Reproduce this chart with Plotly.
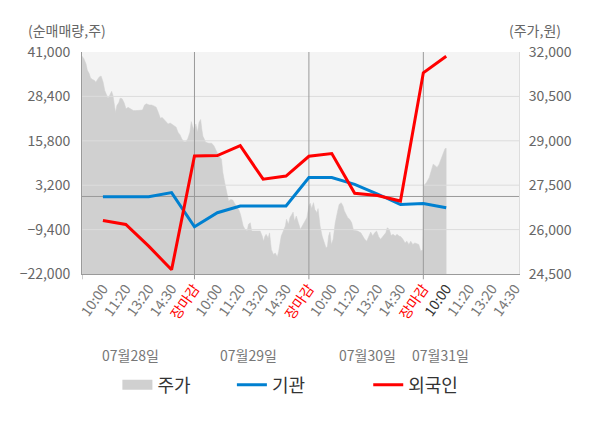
import plotly.graph_objects as go

# 시간축: 하루 5칸(10:00 ~ 장마감), 마지막 날은 4칸
slot_labels = ['10:00', '11:20', '13:20', '14:30', '장마감'] * 3 + ['10:00', '11:20', '13:20', '14:30']
day_labels = ['07월28일', '07월29일', '07월30일', '07월31일']
day_label_pos = [1.2, 6.37, 11.54, 14.77]
close_slots = [4, 9, 14]

# 순매매량 (주)
flow_slot = list(range(16))
inst = [-100, -100, -100, 1100, -8600, -4600, -2700, -2700, -2700, 5400, 5400, 3450, 700, -2300, -2000, -3200]
foreign = [-6800, -7950, -14100, -20800, 11500, 11600, 14400, 4900, 5800, 11400, 12200, 900, 300, -1300, 35100, 39800]

# 주가 (원), 분봉 근사
price_t = [
    -0.91, -0.83, -0.74, -0.68, -0.60, -0.54, -0.45, -0.37, -0.31, -0.25, -0.17, -0.08, 0.01, 0.08, 0.15,
    0.22, 0.29, 0.38, 0.44, 0.49, 0.55, 0.61, 0.70, 0.75, 0.84, 0.93, 1.01, 1.10, 1.18, 1.27, 1.33, 1.44,
    1.59, 1.73, 1.82, 1.90, 2.02, 2.13, 2.25, 2.33, 2.42, 2.51, 2.59, 2.68, 2.76, 2.85, 2.94, 3.02, 3.11,
    3.20, 3.28, 3.37, 3.45, 3.54, 3.63, 3.71, 3.80, 3.86,
    3.91, 3.99, 4.06, 4.13, 4.20, 4.27, 4.32, 4.37, 4.43, 4.49, 4.63, 4.75, 4.85, 4.92, 5.06, 5.18, 5.24,
    5.32, 5.38, 5.44, 5.49, 5.58, 5.67, 5.75, 5.84, 5.93, 6.01, 6.07, 6.13, 6.21, 6.30, 6.36, 6.44, 6.50,
    6.59, 6.73, 6.87, 6.96, 7.02, 7.07, 7.13, 7.22, 7.28, 7.36, 7.45, 7.53, 7.62, 7.68, 7.74, 7.79, 7.88,
    7.97, 8.02, 8.11, 8.17, 8.22, 8.31, 8.37, 8.45, 8.54, 8.63, 8.71, 8.80,
    8.91, 9.00, 9.06, 9.12, 9.20, 9.26, 9.35, 9.40, 9.49, 9.58, 9.66, 9.75, 9.81, 9.86, 9.92, 9.98, 10.06,
    10.15, 10.24, 10.32, 10.41, 10.49, 10.55, 10.64, 10.70, 10.78, 10.87, 10.95, 11.13, 11.27, 11.36,
    11.44, 11.53, 11.62, 11.70, 11.79, 11.87, 11.96, 12.05, 12.13, 12.22, 12.28, 12.36, 12.42, 12.51,
    12.59, 12.68, 12.77, 12.85, 12.94, 13.02, 13.11, 13.20, 13.28, 13.37, 13.45, 13.54, 13.63, 13.71,
    13.80, 13.89, 13.97, 14.02, 14.14, 14.26, 14.35, 14.43, 14.52, 14.60, 14.69, 14.78, 14.86, 14.95, 15.01,
]
price = [
    31860, 31770, 31600, 31380, 31270, 31120, 31070, 31040, 30980, 31040, 31150, 31190, 30980, 30700, 30530,
    30440, 30530, 30670, 30530, 30250, 29960, 30190, 30300, 30440, 30420, 30280, 30080, 30130, 30100, 30060, 30020, 30020,
    30020, 30040, 30210, 30250, 30210, 30210, 30170, 30130, 29960, 29760, 29790, 29720, 29650, 29570, 29600, 29560, 29530,
    29460, 29290, 29200, 29060, 28970, 28970, 29080, 29290, 29650,
    29510, 29340, 29570, 29290, 29630, 29720, 29400, 29150, 29060, 28950, 28920, 28920, 28830, 28720, 28490, 28380, 27930,
    27590, 27360, 27080, 26970, 27020, 27000, 26890, 26800, 26680, 26520, 26350, 26120, 26010, 25950, 26180, 26230, 25950,
    25950, 25950, 25950, 25780, 25610, 25760, 25840, 25720, 25890, 25330, 25160, 25210, 25080, 25270, 25500, 25780, 25950,
    26120, 26350, 26180, 26400, 26460, 26590, 26290, 26460, 26230, 26010, 26120, 26230,
    26400, 26800, 26890, 26710, 26910, 26680, 26570, 26710, 26120, 25780, 25550, 25380, 25440, 25780, 25920, 25500, 25670,
    26230, 26570, 26850, 26910, 26800, 26630, 26520, 26400, 26350, 26230, 25980, 25950, 25890, 25780,
    25670, 25610, 25780, 25920, 25780, 25890, 25950, 25760, 25670, 25760, 25780, 25890, 26060, 26010,
    25800, 25840, 25780, 25840, 25780, 25760, 25670, 25550, 25610, 25500, 25610, 25500, 25550, 25530,
    25500, 25270, 25330, 27480, 27590, 27760, 27980, 28210, 28160, 28100, 28210, 28380, 28550, 28740, 28740,
]

flow_ticks = [-22000, -9400, 3200, 15800, 28400, 41000]
price_ticks = [24500, 26000, 27500, 29000, 30500, 32000]
x_range = [-0.914, 18.18]

font_family = 'Noto Sans CJK KR'

ticktext = []
for i, lab in enumerate(slot_labels):
    if lab == '장마감':
        ticktext.append('<span style="color:#ff0000">' + lab + '</span>')
    elif i == 15:
        ticktext.append('<span style="color:#333333">' + lab + '</span>')
    else:
        ticktext.append(lab)

fig = go.Figure()

# 주가 영역 (기준축 y, 오른쪽)
fig.add_trace(go.Scatter(x=price_t, y=price, mode='lines', fill='tozeroy',
                         line=dict(color='#d0d0d0', width=0.5), fillcolor='#d0d0d0',
                         showlegend=False, hoverinfo='skip', yaxis='y'))

# 그리드 / 기준선 / 장마감 구분선은 주가 영역 위에 그린다
grid_x, grid_y = [], []
for v in flow_ticks[1:-1]:
    grid_x += [x_range[0], x_range[1], None]
    grid_y += [v, v, None]
fig.add_trace(go.Scatter(x=grid_x, y=grid_y, mode='lines', line=dict(color='#dcdcdc', width=1),
                         showlegend=False, hoverinfo='skip', yaxis='y2'))
fig.add_trace(go.Scatter(x=x_range, y=[0, 0], mode='lines', line=dict(color='#9a9a9a', width=1),
                         showlegend=False, hoverinfo='skip', yaxis='y2'))
sep_x, sep_y = [], []
for s in close_slots:
    sep_x += [s, s, None]
    sep_y += [flow_ticks[0], flow_ticks[-1], None]
fig.add_trace(go.Scatter(x=sep_x, y=sep_y, mode='lines', line=dict(color='#9a9a9a', width=1),
                         showlegend=False, hoverinfo='skip', yaxis='y2'))

fig.add_trace(go.Scatter(x=flow_slot, y=inst, mode='lines', name='기관',
                         line=dict(color='#0080d0', width=3), yaxis='y2', legend='legend2'))
fig.add_trace(go.Scatter(x=flow_slot, y=foreign, mode='lines', name='외국인',
                         line=dict(color='#ff0000', width=3), yaxis='y2', legend='legend3'))
# 범례용 (주가 상자)
fig.add_trace(go.Scatter(x=[None], y=[None], mode='lines', name='주가',
                         line=dict(color='#d0d0d0', width=13), yaxis='y', legend='legend'))

shapes = []
for s in [x_range[0]] + close_slots:
    shapes.append(dict(type='line', xref='x', yref='paper', x0=s, x1=s, y0=-0.024, y1=0,
                       line=dict(color='#9a9a9a', width=1)))

annotations = []
for lab, pos in zip(day_labels, day_label_pos):
    annotations.append(dict(text=lab, x=pos, xref='x', y=-0.365, yref='paper', showarrow=False,
                            font=dict(size=14, color='#777777'), xanchor='center', yanchor='middle'))
annotations.append(dict(text='(순매매량,주)', x=-0.034, xref='paper', y=1.097, yref='paper', showarrow=False,
                        font=dict(size=14, color='#666666'), xanchor='center', yanchor='middle'))
annotations.append(dict(text='(주가,원)', x=1.036, xref='paper', y=1.097, yref='paper', showarrow=False,
                        font=dict(size=14, color='#666666'), xanchor='center', yanchor='middle'))

legend_style = dict(orientation='h', yanchor='middle', y=-0.5, xanchor='left',
                    font=dict(size=18, color='#333333'), bgcolor='rgba(0,0,0,0)', itemwidth=30)

# 페이지 여백(8px)을 감안해 그림 크기를 줄인다
fig.update_layout(
    width=592, height=420,
    margin=dict(l=68, r=81, t=44, b=154),
    paper_bgcolor='white', plot_bgcolor='#f4f4f4',
    font=dict(family=font_family, size=14, color='#666666'),
    xaxis=dict(range=x_range, tickmode='array', tickvals=list(range(len(slot_labels))), ticktext=ticktext,
               tickangle=-55, tickfont=dict(size=14, color='#777777'), showgrid=False, zeroline=False,
               showline=True, linecolor='#9a9a9a', ticks=''),
    yaxis=dict(range=[price_ticks[0], price_ticks[-1]], tickvals=price_ticks, tickformat=',', side='right',
               showgrid=False, zeroline=False, showline=True, linecolor='#dddddd',
               tickfont=dict(size=14, color='#666666'), ticklabelstandoff=6),
    yaxis2=dict(range=[flow_ticks[0], flow_ticks[-1]], tickvals=flow_ticks, tickformat=',', side='left',
                overlaying='y', showgrid=False, zeroline=False, showline=True, linecolor='#9a9a9a',
                tickfont=dict(size=14, color='#666666'), ticklabelstandoff=8),
    legend=dict(legend_style, x=0.081),
    legend2=dict(legend_style, x=0.343),
    legend3=dict(legend_style, x=0.655),
    shapes=shapes,
    annotations=annotations,
)

fig.write_html("out.html")
